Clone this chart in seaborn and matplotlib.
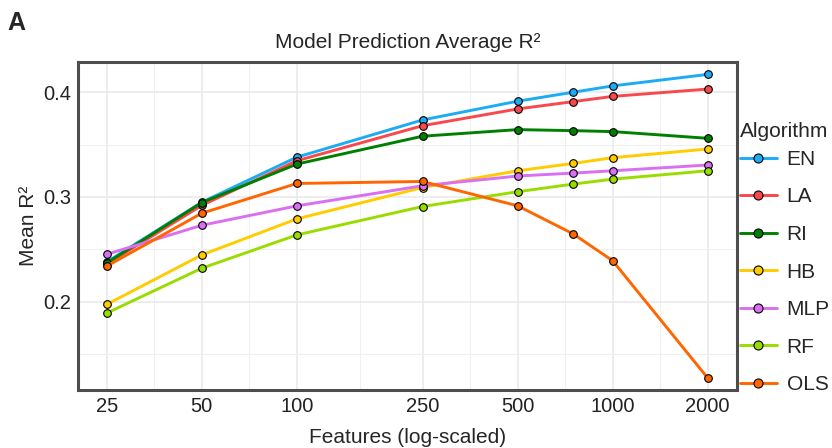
import numpy as np
import pandas as pd
import matplotlib
matplotlib.use("Agg")
import matplotlib.pyplot as plt
from matplotlib.ticker import NullFormatter
import seaborn as sns

features = [25, 50, 100, 250, 500, 750, 1000, 2000]
tick_features = [25, 50, 100, 250, 500, 1000, 2000]
algorithms = ["EN", "LA", "RI", "HB", "MLP", "RF", "OLS"]
en = [0.238, 0.295, 0.338, 0.3735, 0.3914, 0.400, 0.406, 0.417]
la = [0.236, 0.292, 0.3346, 0.368, 0.384, 0.391, 0.396, 0.403]
ri = [0.237, 0.2947, 0.3314, 0.358, 0.3643, 0.3633, 0.3624, 0.356]
hb = [0.1975, 0.2447, 0.2791, 0.309, 0.325, 0.332, 0.3375, 0.3458]
mlp = [0.2453, 0.273, 0.2915, 0.3107, 0.320, 0.3228, 0.325, 0.3305]
rf = [0.1892, 0.232, 0.2638, 0.2909, 0.305, 0.3123, 0.317, 0.325]
ols = [0.234, 0.2845, 0.3129, 0.3148, 0.2916, 0.2648, 0.2392, 0.1273]
colors = ["#1CACF3", "#F8484E", "#008000", "#FFCC00", "#DA6FF2", "#99DD00", "#FF6600"]

series = [en, la, ri, hb, mlp, rf, ols]
df = pd.DataFrame({
    "Features": np.tile(features, len(algorithms)),
    "R2": np.concatenate(series),
    "Algorithm": np.repeat(algorithms, len(features)),
})

sns.set_theme(style="white")
plt.rcParams["font.family"] = ["Liberation Sans", "DejaVu Sans"]

fig, ax = plt.subplots(figsize=(8.32, 4.48), dpi=100)
fig.subplots_adjust(left=0.094, right=0.886, top=0.862, bottom=0.130)

sns.lineplot(data=df, x="Features", y="R2", hue="Algorithm", hue_order=algorithms,
             palette=dict(zip(algorithms, colors)), marker="o", markersize=5.5,
             markeredgecolor="black", markeredgewidth=0.8, linewidth=2.1, ax=ax)

ax.set_xscale("log")
ax.set_xlim(20.3, 2480)
ax.set_ylim(0.116, 0.429)
ax.set_xticks(tick_features)
ax.set_xticklabels([str(t) for t in tick_features])
minor_x = [np.sqrt(a * b) for a, b in zip(tick_features[:-1], tick_features[1:])]
ax.set_xticks(minor_x, minor=True)
ax.xaxis.set_minor_formatter(NullFormatter())
ax.set_yticks([0.2, 0.3, 0.4])
ax.set_yticklabels(["0.2", "0.3", "0.4"])
ax.set_yticks([0.15, 0.25, 0.35], minor=True)
ax.yaxis.set_minor_formatter(NullFormatter())
ax.tick_params(axis="both", which="major", labelsize=14.5, length=0,
               labelcolor="#222222", pad=5)
ax.tick_params(axis="both", which="minor", length=0)
ax.grid(True, which="major", color="#E8E8E8", linewidth=1.1)
ax.grid(True, which="minor", color="#F0F0F0", linewidth=0.8)
ax.set_axisbelow(True)
for s in ax.spines.values():
    s.set_visible(True)
    s.set_color("#4D4D4D")
    s.set_linewidth(2.2)

ax.set_xlabel("Features (log-scaled)", fontsize=15, labelpad=9)
ax.set_ylabel("Mean R²", fontsize=15, labelpad=4)
ax.set_title("Model Prediction Average R²", fontsize=15, pad=10)
fig.text(0.009, 0.975, "A", fontsize=18, fontweight="bold", va="top", ha="left")

handles, labels = ax.get_legend_handles_labels()
for h in handles:
    h.set_markersize(6.5)
ax.legend(handles, labels, title="Algorithm", loc="upper left",
          bbox_to_anchor=(0.889, 0.728), bbox_transform=fig.transFigure,
          frameon=False, fontsize=15, title_fontsize=15, labelspacing=0.89,
          handlelength=1.78, handletextpad=0.48, borderaxespad=0, borderpad=0)
leg = ax.get_legend()
leg._legend_box.align = "left"
leg._legend_box.sep = 6.5

fig.savefig("out.png", dpi=100)
